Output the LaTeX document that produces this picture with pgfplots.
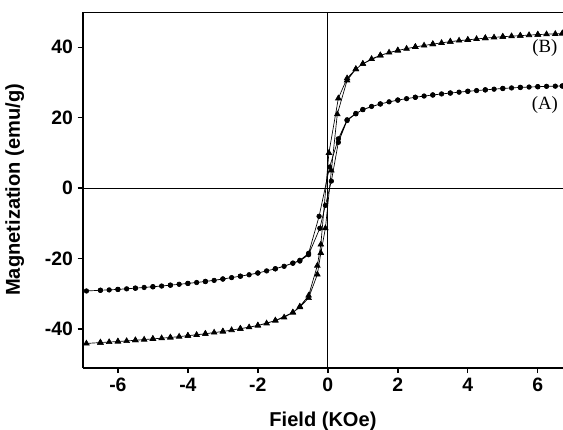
\documentclass[border=0pt]{standalone}
\usepackage{fontspec}
\setmainfont{Liberation Sans}
\newfontfamily\serifff{Liberation Serif}
\usepackage{pgfplots}
\pgfplotsset{compat=1.18}
\usepackage{pgfplotstable}

% sample A (circles): descending branch, then ascending branch
\pgfplotstableread{
x y
6.7 29.0
6.5 28.95
6.25 28.9
6.0 28.8
5.75 28.7
5.5 28.6
5.25 28.45
5.0 28.3
4.75 28.1
4.5 27.9
4.25 27.7
4.0 27.5
3.75 27.25
3.5 27.0
3.25 26.75
3.0 26.45
2.75 26.15
2.5 25.8
2.25 25.4
2.0 25.0
1.75 24.5
1.5 23.9
1.25 23.2
1.0 22.3
0.8 21.2
0.55 19.4
0.3 14.0
0.05 6.0
-0.25 -8.0
-0.55 -18.5
-0.8 -20.5
-1.0 -21.3
-1.25 -22.2
-1.5 -22.9
-1.75 -23.5
-2.0 -24.1
-2.25 -24.6
-2.5 -25.0
-2.75 -25.4
-3.0 -25.8
-3.25 -26.2
-3.5 -26.5
-3.75 -26.8
-4.0 -27.05
-4.25 -27.3
-4.5 -27.55
-4.75 -27.8
-5.0 -28.0
-5.25 -28.2
-5.5 -28.4
-5.75 -28.6
-6.0 -28.75
-6.25 -28.9
-6.5 -29.0
-6.9 -29.2
-6.5 -29.0
-6.0 -28.75
-5.5 -28.4
-5.0 -28.0
-4.5 -27.55
-4.0 -27.05
-3.5 -26.5
-3.0 -25.8
-2.5 -25.0
-2.0 -24.1
-1.5 -22.9
-1.0 -21.3
-0.8 -20.7
-0.55 -18.9
-0.23 -11.4
-0.07 -4.9
0.1 2.0
0.3 13.0
0.55 19.2
0.8 21.1
1.0 22.3
1.5 23.9
2.0 25.0
2.5 25.8
3.0 26.45
3.5 27.0
4.0 27.5
4.5 27.9
5.0 28.3
5.5 28.6
6.0 28.8
6.7 29.0
}\dataA

% sample B (triangles)
\pgfplotstableread{
x y
6.7 43.9
6.5 43.8
6.25 43.7
6.0 43.6
5.75 43.45
5.5 43.3
5.25 43.15
5.0 43.0
4.75 42.8
4.5 42.6
4.25 42.35
4.0 42.1
3.75 41.9
3.5 41.6
3.25 41.25
3.0 40.9
2.75 40.5
2.5 40.1
2.25 39.6
2.0 39.1
1.75 38.5
1.5 37.7
1.25 36.7
1.0 35.3
0.8 33.8
0.55 31.2
0.3 25.5
0.03 10.0
-0.2 -16.0
-0.3 -22.0
-0.55 -30.5
-0.8 -33.6
-1.0 -35.3
-1.25 -36.7
-1.5 -37.6
-1.75 -38.4
-2.0 -39.0
-2.25 -39.5
-2.5 -39.9
-2.75 -40.3
-3.0 -40.7
-3.25 -41.0
-3.5 -41.35
-3.75 -41.65
-4.0 -41.9
-4.25 -42.15
-4.5 -42.4
-4.75 -42.6
-5.0 -42.8
-5.25 -43.0
-5.5 -43.2
-5.75 -43.4
-6.0 -43.55
-6.25 -43.7
-6.5 -43.85
-6.9 -44.1
-6.5 -43.85
-6.0 -43.55
-5.5 -43.2
-5.0 -42.8
-4.5 -42.4
-4.0 -41.9
-3.5 -41.35
-3.0 -40.7
-2.5 -39.9
-2.0 -39.0
-1.5 -37.6
-1.0 -35.3
-0.8 -33.8
-0.55 -31.2
-0.3 -24.5
-0.2 -18.4
-0.07 -11.4
0.1 5.0
0.27 21.0
0.55 30.6
0.8 33.8
1.0 35.3
1.5 37.7
2.0 39.1
2.5 40.1
3.0 40.9
3.5 41.6
4.0 42.1
4.5 42.6
5.0 43.0
5.5 43.3
6.0 43.6
6.7 43.9
}\dataB

\begin{document}
\begin{tikzpicture}
\begin{axis}[
  at={(0,0)}, anchor=south west,
  scale only axis,
  width=359pt, height=266pt,
  xmin=-7, xmax=6.72,
  ymin=-51, ymax=50,
  xtick={-6,-4,...,6},
  ytick={-40,-20,...,40},
  axis x line*=bottom, axis y line*=left,
  x axis line style={-}, y axis line style={-},
  axis line style={line width=1.5pt},
  tick align=outside,
  major tick length=4pt,
  tick style={line width=1pt,black},
  ticklabel style={font=\bfseries\fontsize{14.5}{16}\selectfont},
  /pgf/number format/assume math mode=true,
  xlabel={Field (KOe)},
  ylabel={Magnetization (emu/g)},
  label style={font=\bfseries\fontsize{15}{17}\selectfont},
  xlabel style={at={(axis description cs:0.5,0)},anchor=center,yshift=-40pt},
  ylabel style={at={(axis description cs:0,0.5)},anchor=center,yshift=51pt},
  clip=true,
]
\draw[line width=0.75pt] (axis cs:0,-51) -- (axis cs:0,50);
\draw[line width=0.75pt] (axis cs:-7,0) -- (axis cs:6.72,0);
\draw[line width=1.5pt] (rel axis cs:0,1) -- (rel axis cs:1,1);
\addplot[black,line width=0.5pt,mark=*,mark size=1.7pt] table[x=x,y=y]{\dataA};
\addplot[black,line width=0.5pt,mark=triangle*,mark size=2.4pt] table[x=x,y=y]{\dataB};
\node[font=\serifff\fontsize{14}{16}\selectfont] at (axis cs:6.2,39.7) {(B)};
\node[font=\serifff\fontsize{14}{16}\selectfont] at (axis cs:6.2,23.7) {(A)};
\end{axis}
\pgfresetboundingbox
\path (-62pt,-46pt) rectangle (359pt,275pt);
\end{tikzpicture}
\end{document}
